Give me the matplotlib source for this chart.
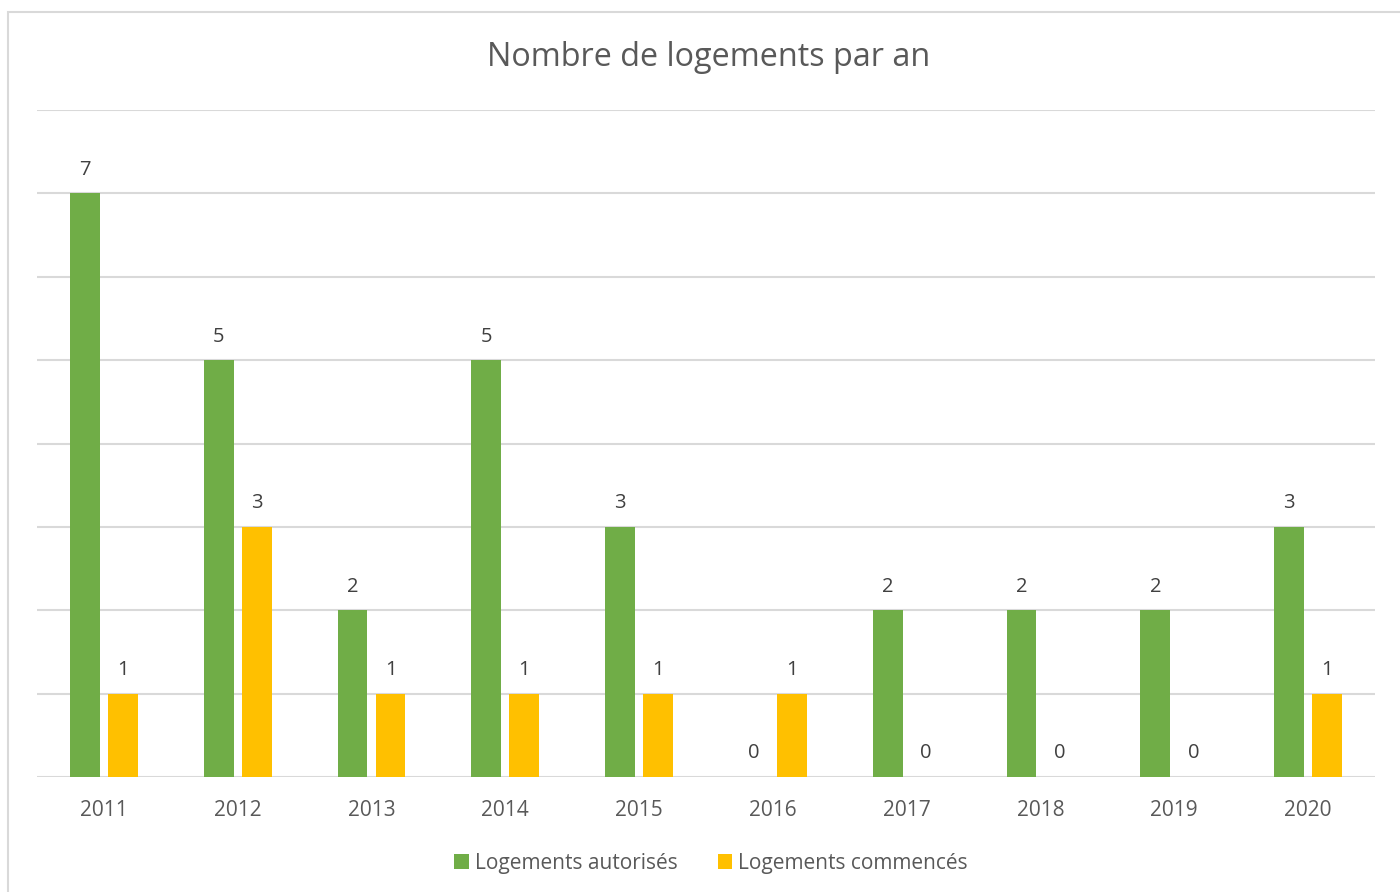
import matplotlib.pyplot as plt
import numpy as np
from matplotlib.patches import Rectangle

plt.rcParams['font.family'] = ['Open Sans', 'DejaVu Sans']

# values
years = ['2011', '2012', '2013', '2014', '2015', '2016', '2017', '2018', '2019', '2020']
autorises = [7, 5, 2, 5, 3, 0, 2, 2, 2, 3]
commences = [1, 3, 1, 1, 1, 1, 0, 0, 0, 1]
series_names = ['Logements autorisés', 'Logements commencés']

green = '#70ad47'
yellow = '#ffc000'
grid_c = '#d9d9d9'

fig = plt.figure(figsize=(14, 8.92), dpi=100)
ax = fig.add_axes([0.02643, 0.12892, 0.9557, 0.74776])

x = np.arange(len(years))
w = 0.224
off = 0.142
b1 = ax.bar(x - off, autorises, w, color=green, label=series_names[0], zorder=3)
b2 = ax.bar(x + off, commences, w, color=yellow, label=series_names[1], zorder=3)

# data labels above each bar
for bars, vals in ((b1, autorises), (b2, commences)):
    for r, v in zip(bars, vals):
        ax.annotate(str(v), (r.get_x() + r.get_width() / 2, v),
                    xytext=(0, 17), textcoords='offset points',
                    ha='center', va='center', fontsize=14.5, color='#404040')

ax.set_xlim(-0.5, len(years) - 0.5)
ax.set_ylim(0, 8)
ax.set_yticks(range(0, 9))
ax.set_yticklabels([])
ax.tick_params(axis='y', length=0)
ax.grid(axis='y', color=grid_c, linewidth=1.5, zorder=0)
ax.set_xticks(x)
ax.set_xticklabels(years, fontsize=15, color='#595959')
ax.tick_params(axis='x', length=0, pad=16.5)
for s in ax.spines.values():
    s.set_visible(False)

fig.text(0.5064, 0.936, 'Nombre de logements par an', ha='center', va='center',
         fontsize=23.3, color='#595959')

fig.legend(loc='center', bbox_to_anchor=(0.508, 0.032), ncol=2, frameon=False,
           fontsize=15, labelcolor='#595959', handlelength=0.7, handleheight=0.7,
           handletextpad=0.3, columnspacing=1.9)

# outer chart border
fig.patches.append(Rectangle((0.006, -0.05), 1.1, 1.0365,
                             transform=fig.transFigure, fill=False,
                             edgecolor=grid_c, linewidth=1.5))

fig.savefig('out.png', dpi=100)
